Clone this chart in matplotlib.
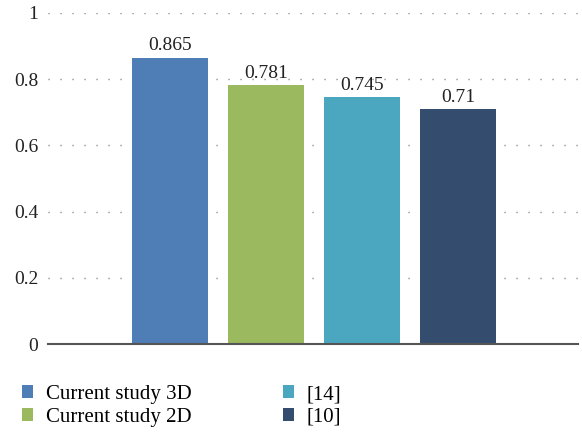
import numpy as np
import matplotlib
matplotlib.use('Agg')
import matplotlib.pyplot as plt

labels = ['Current study 3D', 'Current study 2D', '[14]', '[10]']
values = [0.865, 0.781, 0.745, 0.71]
value_text = ['0.865', '0.781', '0.745', '0.71']
colors = ['#4f7db6', '#9bb95e', '#4ba7c0', '#344d6f']
yticks = [0, 0.2, 0.4, 0.6, 0.8, 1]
ytick_labels = ['0', '0.2', '0.4', '0.6', '0.8', '1']

plt.rcParams['font.family'] = ['Liberation Serif', 'DejaVu Serif']

fig = plt.figure(figsize=(5.82, 4.32), dpi=100)
ax = fig.add_axes([0.0825, 0.2037, 0.9105, 0.7663])

x = np.arange(len(values))
bars = ax.bar(x, values, width=0.79, color=colors, label=labels, zorder=3)
for b, t in zip(bars, value_text):
    ax.text(b.get_x() + b.get_width() / 2, b.get_height() + 0.01, t,
            ha='center', va='bottom', fontsize=14, color='#222222')

ax.set_xlim(-1.276, 4.25)
ax.set_ylim(0, 1)
ax.set_yticks(yticks)
ax.set_yticklabels(ytick_labels, fontsize=14, color='#222222')
ax.set_xticks([])
ax.tick_params(axis='y', length=0, pad=7)
ax.yaxis.grid(True, linestyle=(0, (0.8, 7.84)), color='#777777', linewidth=1.0, zorder=0)
for side in ['top', 'right', 'left']:
    ax.spines[side].set_visible(False)
ax.spines['bottom'].set_color('#555555')
ax.spines['bottom'].set_linewidth(1.5)
ax.spines['bottom'].set_zorder(4)

fig.legend(handles=bars, labels=labels, ncol=2, loc='upper left',
           bbox_to_anchor=(0.005, 0.152), frameon=False, fontsize=15,
           handlelength=0.55, handleheight=0.55, handletextpad=0.6,
           columnspacing=4.4, labelspacing=0.18)

fig.savefig('out.png', dpi=100)
